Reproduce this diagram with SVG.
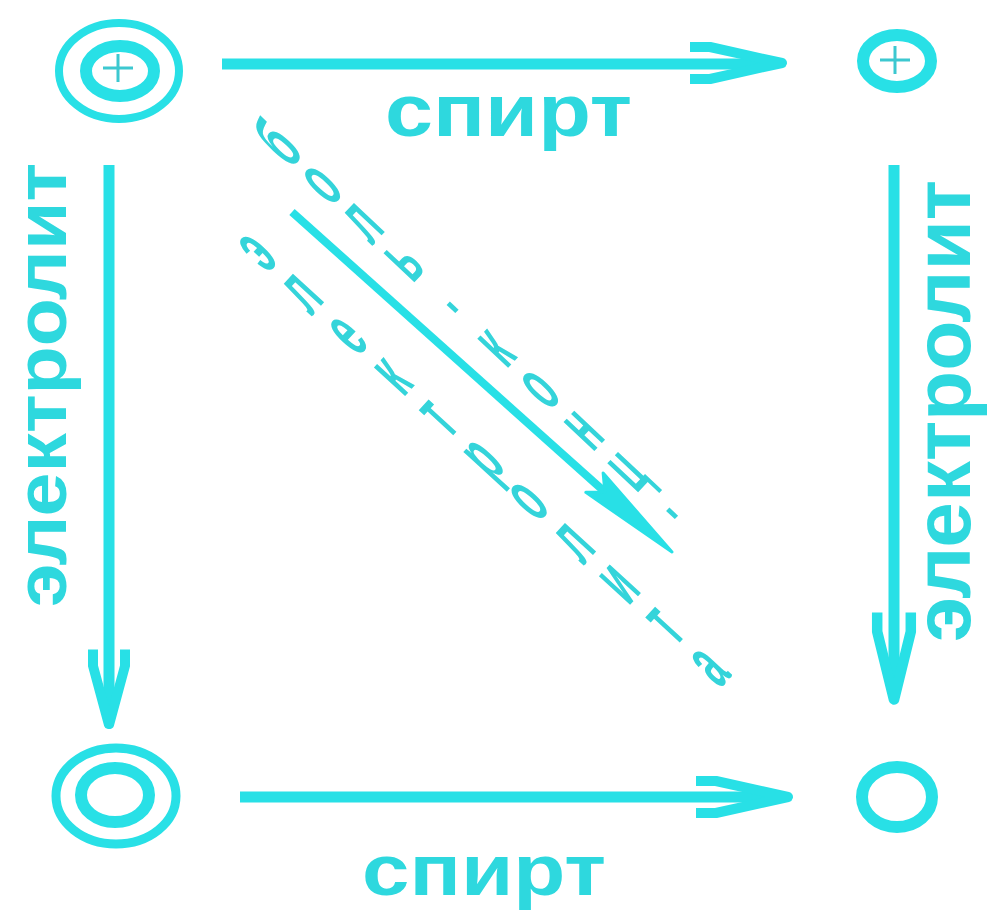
<svg xmlns="http://www.w3.org/2000/svg" width="988" height="914" viewBox="0 0 988 914">
<style>
.ring{fill:none;stroke:#28E0E6}
.plus{stroke:#3CC8D0;stroke-width:3;fill:none}
.shaft{stroke:#28E0E6;stroke-width:11;fill:none}
.head{fill:none;stroke:#28E0E6;stroke-width:10;stroke-linejoin:round}
.lbl{font-family:"Liberation Sans",Arial,sans-serif;font-weight:bold;fill:#2ED8DE}
.diag{font-family:"Liberation Sans",Arial,sans-serif;font-weight:bold;fill:#34D4DA;font-size:80px;text-anchor:middle}
</style>
<defs>
<path id="ah" d="M-92,-16 H-72 L0,0 L-72,16 H-92"/>
</defs>
<rect width="988" height="914" fill="#ffffff"/>
<g id="node-tl">
<ellipse class="ring" cx="119" cy="71" rx="60" ry="48" stroke-width="8"/>
<ellipse class="ring" cx="120" cy="71" rx="34" ry="25" stroke-width="12"/>
<path class="plus" d="M103,68 H133 M118,54 V82"/>
</g>
<g id="node-tr">
<ellipse class="ring" cx="897" cy="61" rx="34" ry="26" stroke-width="12"/>
<path class="plus" d="M880,60 H910 M895,46 V74"/>
</g>
<g id="node-bl">
<ellipse class="ring" cx="116" cy="796" rx="60" ry="48" stroke-width="9"/>
<ellipse class="ring" cx="115" cy="795" rx="34" ry="27" stroke-width="12"/>
</g>
<g id="node-br">
<ellipse class="ring" cx="897" cy="797" rx="35" ry="30" stroke-width="12"/>
</g>
<g id="connectors">
<line class="shaft" x1="222" y1="64" x2="772" y2="64"/>
<use href="#ah" class="head" transform="translate(782,63)"/>
<line class="shaft" x1="240" y1="797" x2="772" y2="797"/>
<use href="#ah" class="head" transform="translate(788,797)"/>
<line class="shaft" x1="109" y1="165" x2="109" y2="712"/>
<use href="#ah" class="head" transform="translate(109,725) rotate(90) scale(0.82,1)"/>
<line class="shaft" x1="894" y1="165" x2="894" y2="688"/>
<use href="#ah" class="head" transform="translate(894,700) rotate(90) scale(0.95,1.05)"/>
<line class="shaft" x1="292" y1="212" x2="615" y2="501" style="stroke-width:8"/>
<path d="M0,0 L-104,-13 L-90,0 L-104,13 Z" transform="translate(672,552) rotate(41.8)" fill="#28E0E6" stroke="#28E0E6" stroke-width="3" stroke-linejoin="round"/>
</g>
<g id="labels">
<text class="lbl" x="385" y="136" font-size="74" textLength="247" lengthAdjust="spacingAndGlyphs">спирт</text>
<text class="lbl" x="362" y="895" font-size="72" textLength="244" lengthAdjust="spacingAndGlyphs">спирт</text>
<text class="lbl" transform="translate(66,607) rotate(-90)" x="0" y="0" font-size="72" textLength="444" lengthAdjust="spacingAndGlyphs">электролит</text>
<text class="lbl" transform="translate(970,642) rotate(-90)" x="0" y="0" font-size="80" textLength="462" lengthAdjust="spacingAndGlyphs">электролит</text>
<g transform="translate(282,147) rotate(-46.8) scale(0.42,1)">
<text class="diag" x="0 0 0 0 0 0 0 0 0 0 0" y="21 77 133 189 240 272 316 376 436 496 541">боль. конц.</text>
</g>
<g transform="translate(258,253) rotate(-47.5) scale(0.42,1)">
<text class="diag" x="0 0 0 0 0 0 0 0 0 0 0" y="21 82 144 205 267 328 389 451 512 574 635">электролита</text>
</g>
</g>
</svg>
